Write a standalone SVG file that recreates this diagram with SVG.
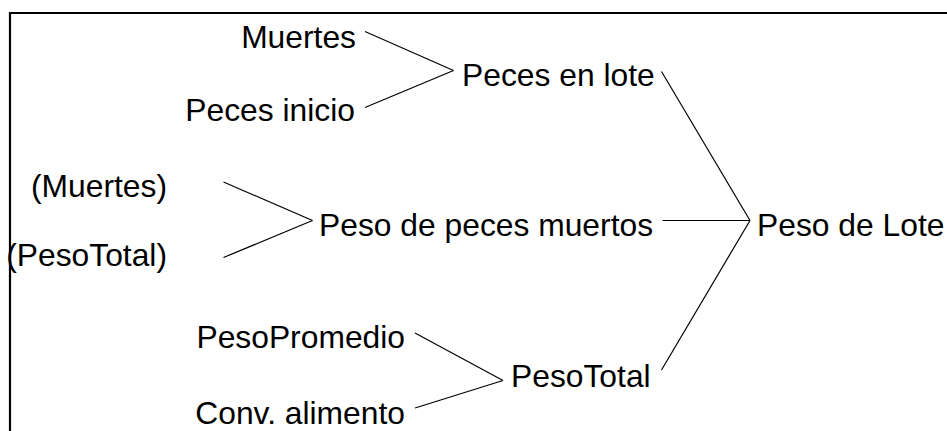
<svg xmlns="http://www.w3.org/2000/svg" width="947" height="431" viewBox="0 0 947 431">
<style>
text{font-family:"Liberation Sans",Arial,sans-serif;font-size:31.8px;fill:#000}
.e{text-anchor:end}
.c line{stroke:#000;stroke-width:1.2;fill:none}
.frame{stroke:#000;stroke-width:2.2;fill:none}
</style>
<rect width="947" height="431" fill="#fff"/>
<polyline class="frame" points="10,431 10,13 947,13"/>
<g id="n-muertes"><text class="e" x="356" y="48">Muertes</text></g>
<g id="n-peces-inicio"><text class="e" x="355" y="121">Peces inicio</text></g>
<g id="n-peces-en-lote"><text x="462" y="86">Peces en lote</text></g>
<g id="n-muertes2"><text class="e" x="167" y="197">(Muertes)</text></g>
<g id="n-pesototal2"><text class="e" x="167" y="266">(PesoTotal)</text></g>
<g id="n-peso-peces-muertos"><text x="319" y="236">Peso de peces muertos</text></g>
<g id="n-peso-de-lote"><text x="757" y="236">Peso de Lote</text></g>
<g id="n-pesopromedio"><text class="e" x="405" y="348">PesoPromedio</text></g>
<g id="n-conv-alimento"><text class="e" x="405" y="424">Conv. alimento</text></g>
<g id="n-pesototal"><text x="511" y="387">PesoTotal</text></g>
<g id="connectors" class="c">
<line x1="365" y1="31.5" x2="453.5" y2="70.5"/>
<line x1="365" y1="107.5" x2="453.5" y2="70.5"/>
<line x1="223.5" y1="182" x2="312.5" y2="220.5"/>
<line x1="223.5" y1="257.5" x2="312.5" y2="220.5"/>
<line x1="415" y1="333" x2="503" y2="380.5"/>
<line x1="415" y1="408" x2="503" y2="380.5"/>
<line x1="661.5" y1="71.5" x2="750" y2="220.5"/>
<line x1="662.5" y1="220.5" x2="750" y2="220.5"/>
<line x1="661.5" y1="370" x2="750" y2="220.5"/>
</g>
</svg>
